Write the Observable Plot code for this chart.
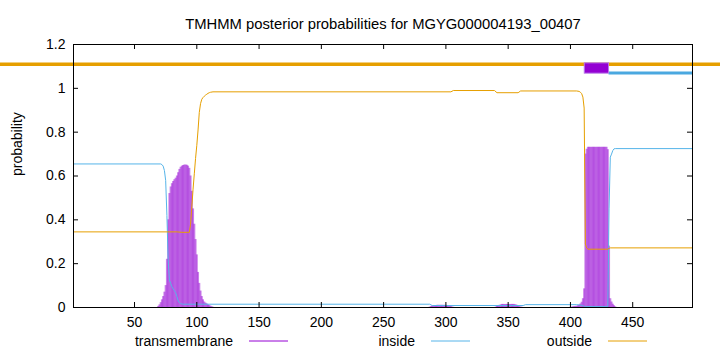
<!DOCTYPE html>
<html><head><meta charset="utf-8">
<script src="https://cdn.jsdelivr.net/npm/d3@7"></script>
<script src="https://cdn.jsdelivr.net/npm/@observablehq/plot@0.6"></script>
<style>
body{margin:0;background:#fff;}
#wrap{width:720px;font-family:"Liberation Sans",Arial,sans-serif;}
#wrap svg{display:block;}
</style></head><body><div id="wrap"></div>
<script>
const title = "TMHMM posterior probabilities for MGYG000004193_00407";
const yLabel = "probability";
const seqLength = 498;
const xTicks = [50, 100, 150, 200, 250, 300, 350, 400, 450];
const yTicks = [0, 0.2, 0.4, 0.6, 0.8, 1, 1.2];
const seriesNames = ["transmembrane", "inside", "outside"];
const seriesColors = ["#9400d3", "#56b4e9", "#e69f00"];

// transmembrane posterior (impulses), per residue, grouped by stretch
const tmPeak1Start = 69;
const tmPeak1 = [0.005,0.012,0.022,0.035,0.05,0.07,0.1,0.22,0.40,0.52,0.55,0.565,0.575,0.583,0.59,0.60,0.615,0.63,0.64,0.645,0.648,0.65,0.65,0.649,0.645,0.635,0.60,0.53,0.45,0.38,0.31,0.24,0.16,0.11,0.075,0.05,0.035,0.025,0.02,0.016,0.012,0.009,0.006,0.003,0.001];
const tmHump2Start = 287;
const tmHump2 = [0.002,0.004,0.006,0.007,0.008,0.009,0.01,0.01,0.01,0.01,0.01,0.01,0.01,0.01,0.009,0.008,0.006,0.004,0.002,0.001];
const tmHump3Start = 340;
const tmHump3 = [0.002,0.005,0.008,0.01,0.012,0.014,0.014,0.014,0.014,0.014,0.014,0.014,0.014,0.014,0.014,0.014,0.012,0.01,0.007,0.004,0.002,0.001];
const tmPeak4Start = 400;
const tmPeak4 = [0.001,0.002,0.003,0.004,0.005,0.006,0.008,0.011,0.016,0.024,0.04,0.085,0.70,0.722,0.731,0.731,0.731,0.731,0.731,0.731,0.731,0.731,0.731,0.731,0.731,0.731,0.731,0.731,0.731,0.731,0.72,0.28,0.04,0.025,0.015,0.008,0.003];

// inside posterior (line), breakpoints
const insidePos = [1,71,72,73,74,75,76,77,78,79,80,81,82,83,84,85,86,87,88,89,287,289,362,364,405,408,410,412,430,431,432,433,434,435,436,498];
const insideVal = [0.655,0.655,0.652,0.645,0.625,0.58,0.42,0.22,0.125,0.11,0.095,0.085,0.077,0.068,0.05,0.03,0.022,0.018,0.016,0.015,0.015,0.009,0.009,0.013,0.013,0.011,0.008,0.004,0.004,0.45,0.686,0.70,0.716,0.724,0.725,0.725];

// outside posterior (line), breakpoints
const outsidePos = [1,84,88,94,95,96,97,98,99,100,101,102,103,104,105,106,107,108,109,110,111,113,304,306,339,341,358,360,405,407,408,409,410,411,412,413,414,430,431,432,498];
const outsideVal = [0.345,0.345,0.343,0.343,0.38,0.46,0.54,0.61,0.68,0.74,0.81,0.89,0.93,0.95,0.958,0.964,0.969,0.973,0.977,0.98,0.982,0.984,0.984,0.99,0.99,0.98,0.98,0.988,0.988,0.986,0.982,0.976,0.96,0.91,0.29,0.272,0.266,0.266,0.27,0.272,0.272];

// predicted topology bar
const topOutsideY = 1.11;
const topTmStart = 411.5, topTmEnd = 431, topTmLow = 1.067, topTmHigh = 1.114;
const topInsideStart = 431, topInsideEnd = 498, topInsideY = 1.07;

const tmData = [];
[[tmPeak1Start, tmPeak1], [tmHump2Start, tmHump2], [tmHump3Start, tmHump3], [tmPeak4Start, tmPeak4]]
  .forEach(([s, vals]) => vals.forEach((v, i) => tmData.push({pos: s + i, p: v})));
const insideData = insidePos.map((x, i) => ({pos: x, p: insideVal[i]}));
const outsideData = outsidePos.map((x, i) => ({pos: x, p: outsideVal[i]}));

const W = 720, ML = 73, MR = 28, MT = 44, MB = 25, H = 332;
const frameW = W - ML - MR, frameH = H - MT - MB;
const tickLen = 5;

const chart = Plot.plot({
  width: W, height: H,
  marginLeft: ML, marginRight: MR, marginTop: MT, marginBottom: MB,
  style: {fontFamily: "'Liberation Sans', Arial, sans-serif", fontSize: "14px", background: "white", overflow: "visible"},
  x: {domain: [1, seqLength]},
  y: {domain: [0, 1.2]},
  marks: [
    Plot.ruleX(tmData, {x: "pos", y1: 0, y2: "p", stroke: seriesColors[0], strokeOpacity: 0.5, strokeWidth: 2}),
    Plot.line(insideData, {x: "pos", y: "p", stroke: seriesColors[1], strokeWidth: 1}),
    Plot.line(outsideData, {x: "pos", y: "p", stroke: seriesColors[2], strokeWidth: 1}),
    Plot.ruleY([topOutsideY], {y: d => d, stroke: seriesColors[2], strokeWidth: 3.5, insetLeft: -ML, insetRight: -MR}),
    Plot.ruleY([topInsideY], {y: d => d, x1: topInsideStart, x2: topInsideEnd, stroke: "#4aa8e0", strokeWidth: 3}),
    Plot.rect([0], {x1: topTmStart, x2: topTmEnd, y1: topTmLow, y2: topTmHigh, fill: seriesColors[0], stroke: "#b878e8", strokeWidth: 1}),
    Plot.frame({stroke: "black", strokeWidth: 1}),
    Plot.tickX(xTicks, {x: d => d, stroke: "black", insetTop: frameH - tickLen}),
    Plot.tickX(xTicks, {x: d => d, stroke: "black", insetBottom: frameH - tickLen}),
    Plot.tickY(yTicks, {y: d => d, stroke: "black", insetRight: frameW - tickLen}),
    Plot.tickY(yTicks, {y: d => d, stroke: "black", insetLeft: frameW - tickLen}),
    Plot.axisX({ticks: xTicks, tickSize: 0, tickPadding: 10, label: null, fontSize: 14}),
    Plot.axisY({ticks: yTicks, tickSize: 0, tickPadding: 8, label: null, fontSize: 14, tickFormat: d => String(d)}),
    Plot.text([yLabel], {text: d => d, frameAnchor: "left", rotate: -90, dx: -56, fontSize: 14}),
    Plot.text([title], {text: d => d, frameAnchor: "top", dy: -26, fontSize: 14.8})
  ]
});
document.getElementById("wrap").appendChild(chart);

// legend below the plot
const legendTextRight = [233, 415, 592];
const leg = d3.select("#wrap").append("svg").attr("width", W).attr("height", 20)
  .style("font-family", "'Liberation Sans', Arial, sans-serif").style("font-size", "14px");
seriesNames.forEach((name, i) => {
  const xr = legendTextRight[i];
  leg.append("text").attr("x", xr).attr("y", 9).attr("dy", "0.35em").attr("text-anchor", "end").attr("fill", "black").text(name);
  leg.append("line").attr("x1", xr + 16).attr("x2", xr + 55).attr("y1", 9).attr("y2", 9)
    .attr("stroke", seriesColors[i]).attr("stroke-width", 1);
});
</script></body></html>
